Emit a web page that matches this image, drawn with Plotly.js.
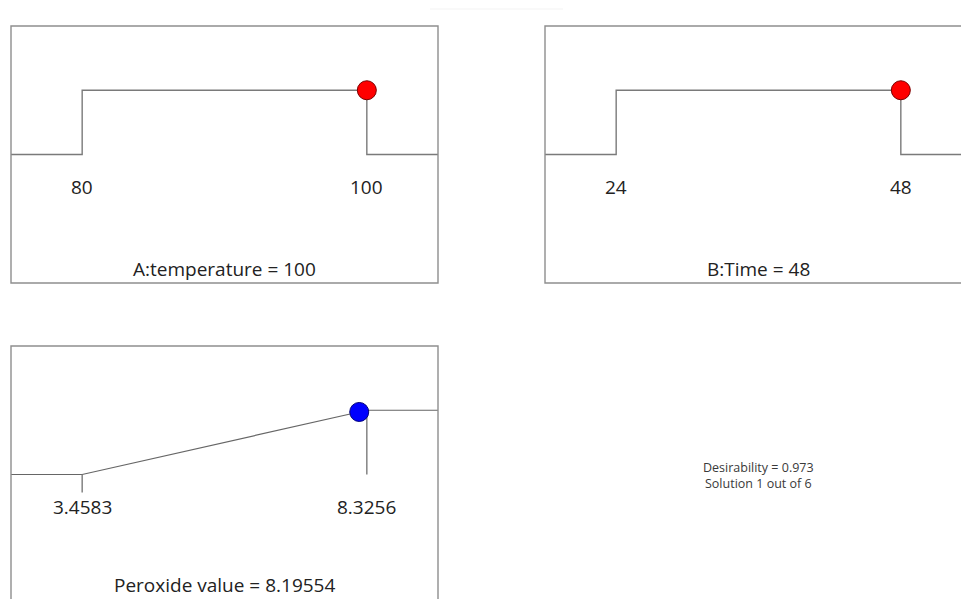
<!DOCTYPE html>
<html>
<head>
<meta charset="utf-8">
<script src="https://cdn.plot.ly/plotly-3.0.1.min.js"></script>
<style>
  html, body { margin: 0; padding: 0; background: #ffffff; }
  #chart { width: 961px; height: 599px; }
</style>
</head>
<body>
<div id="chart"></div>
<script>
// Factor settings of the optimal solution
const factorNames = ['A:temperature', 'B:Time'];
const factorLow = [80, 24];
const factorHigh = [100, 48];
const factorValue = [100, 48];

// Response ramp (maximize goal)
const responseName = 'Peroxide value';
const responseLow = 3.4583;
const responseHigh = 8.3256;
const responseValue = 8.19554;

// Overall result
const desirabilityText = ['Desirability = 0.973', 'Solution 1 out of 6'];

const frameColor = '#8e8e8e';
const lineColor = '#7a7a7a';
const textFont = { family: 'Open Sans, Noto Sans, sans-serif', size: 19, color: '#222222' };
const smallFont = { family: 'Open Sans, Noto Sans, sans-serif', size: 12.5, color: '#3a3a3a' };

// Each ramp panel spans a quarter of the limit range beyond either limit
function padRange(lo, hi) {
  const pad = 0.25 * (hi - lo);
  return [lo - pad, hi + pad];
}

const W = 961, H = 599;
const boxW = 427, boxH = 257;
const px = v => v / W;
const py = v => 1 - v / H;

const r1 = padRange(factorLow[0], factorHigh[0]);
const r2full = padRange(factorLow[1], factorHigh[1]);
const r3 = padRange(responseLow, responseHigh);

// panel 2 is cut by the right page edge
const p2Left = 545;
const p2VisibleW = W - p2Left;
const r2 = [r2full[0], r2full[0] + (r2full[1] - r2full[0]) * p2VisibleW / boxW];

// panel 3 is cut by the bottom page edge
const p3Top = 346;
const p3VisibleH = H - p3Top;
const yFull = [-2, 2];
const y3 = [yFull[1] - (yFull[1] - yFull[0]) * p3VisibleH / boxH, yFull[1]];

function stepTrace(lo, hi, val, range, xa, ya) {
  return [
    {
      type: 'scatter', mode: 'lines', xaxis: xa, yaxis: ya,
      x: [range[0], lo, lo, hi, hi, range[1]],
      y: [0, 0, 1, 1, 0, 0],
      line: { color: lineColor, width: 1.4 },
      hoverinfo: 'skip'
    },
    {
      type: 'scatter', mode: 'markers', xaxis: xa, yaxis: ya,
      x: [val], y: [val >= lo && val <= hi ? 1 : 0],
      marker: { size: 19, color: '#ff0000', line: { color: '#7a0000', width: 1 } },
      hoverinfo: 'skip'
    }
  ];
}

const respD = (responseValue - responseLow) / (responseHigh - responseLow);

const traces = [
  ...stepTrace(factorLow[0], factorHigh[0], factorValue[0], r1, 'x', 'y'),
  ...stepTrace(factorLow[1], factorHigh[1], factorValue[1], r2, 'x2', 'y2'),
  {
    type: 'scatter', mode: 'lines', xaxis: 'x3', yaxis: 'y3',
    x: [r3[0], responseLow, responseHigh, r3[1]],
    y: [0, 0, 1, 1],
    line: { color: '#666666', width: 1.2 },
    hoverinfo: 'skip'
  },
  {
    // limit markers under the ramp
    type: 'scatter', mode: 'lines', xaxis: 'x3', yaxis: 'y3',
    x: [responseLow, responseLow, null, responseHigh, responseHigh],
    y: [0, -0.28, null, 1, 0],
    line: { color: lineColor, width: 1.4 },
    hoverinfo: 'skip'
  },
  {
    type: 'scatter', mode: 'markers', xaxis: 'x3', yaxis: 'y3',
    x: [responseValue], y: [respD],
    marker: { size: 19, color: '#0000ff', line: { color: '#00007a', width: 1 } },
    hoverinfo: 'skip'
  }
];

const hiddenAxis = { visible: false, fixedrange: true, zeroline: false, showgrid: false };

const frame = (xr, yr, x1, y0) => ({
  type: 'rect', xref: xr, yref: yr, x0: 0, x1: x1, y0: y0, y1: 1,
  line: { color: frameColor, width: 1.4 }, fillcolor: 'rgba(0,0,0,0)', layer: 'above'
});

const limitLabel = (x, xr, yr) => ({
  xref: xr, yref: yr, x: x, y: -0.5, text: String(x), showarrow: false,
  xanchor: 'center', yanchor: 'middle', font: textFont
});

const panelTitle = (text, xr, yr, xCenter, yPos) => ({
  xref: xr, yref: yr, x: xCenter, y: yPos, text: text, showarrow: false,
  xanchor: 'center', yanchor: 'middle', font: textFont
});

const layout = {
  width: W, height: H,
  margin: { l: 0, r: 0, t: 0, b: 0 },
  paper_bgcolor: '#ffffff', plot_bgcolor: 'rgba(0,0,0,0)',
  showlegend: false,
  xaxis: { ...hiddenAxis, domain: [px(11), px(438)], range: r1, anchor: 'y' },
  yaxis: { ...hiddenAxis, domain: [py(283), py(26)], range: yFull, anchor: 'x' },
  xaxis2: { ...hiddenAxis, domain: [px(p2Left), 1], range: r2, anchor: 'y2' },
  yaxis2: { ...hiddenAxis, domain: [py(283), py(26)], range: yFull, anchor: 'x2' },
  xaxis3: { ...hiddenAxis, domain: [px(11), px(438)], range: r3, anchor: 'y3' },
  yaxis3: { ...hiddenAxis, domain: [0, py(p3Top)], range: y3, anchor: 'x3' },
  shapes: [
    frame('x domain', 'y domain', 1, 0),
    frame('x2 domain', 'y2 domain', boxW / p2VisibleW, 0),
    frame('x3 domain', 'y3 domain', 1, -(boxH - p3VisibleH) / p3VisibleH),
    { type: 'line', xref: 'paper', yref: 'paper', x0: px(430), x1: px(563), y0: py(9), y1: py(9),
      line: { color: '#f3f3f3', width: 1 } }
  ],
  annotations: [
    limitLabel(factorLow[0], 'x', 'y'),
    limitLabel(factorHigh[0], 'x', 'y'),
    limitLabel(factorLow[1], 'x2', 'y2'),
    limitLabel(factorHigh[1], 'x2', 'y2'),
    limitLabel(responseLow, 'x3', 'y3'),
    limitLabel(responseHigh, 'x3', 'y3'),
    panelTitle(factorNames[0] + ' = ' + factorValue[0], 'x', 'y', (r1[0] + r1[1]) / 2, -1.78),
    panelTitle(factorNames[1] + ' = ' + factorValue[1], 'x2', 'y2', (r2full[0] + r2full[1]) / 2, -1.78),
    panelTitle(responseName + ' = ' + responseValue, 'x3', 'y3', (r3[0] + r3[1]) / 2, -1.72),
    { xref: 'paper', yref: 'paper', x: px(758), y: py(467), text: desirabilityText[0], showarrow: false,
      xanchor: 'center', yanchor: 'middle', font: smallFont },
    { xref: 'paper', yref: 'paper', x: px(758), y: py(483), text: desirabilityText[1], showarrow: false,
      xanchor: 'center', yanchor: 'middle', font: smallFont }
  ]
};

Plotly.newPlot('chart', traces, layout, { staticPlot: true, displayModeBar: false });
</script>
</body>
</html>
